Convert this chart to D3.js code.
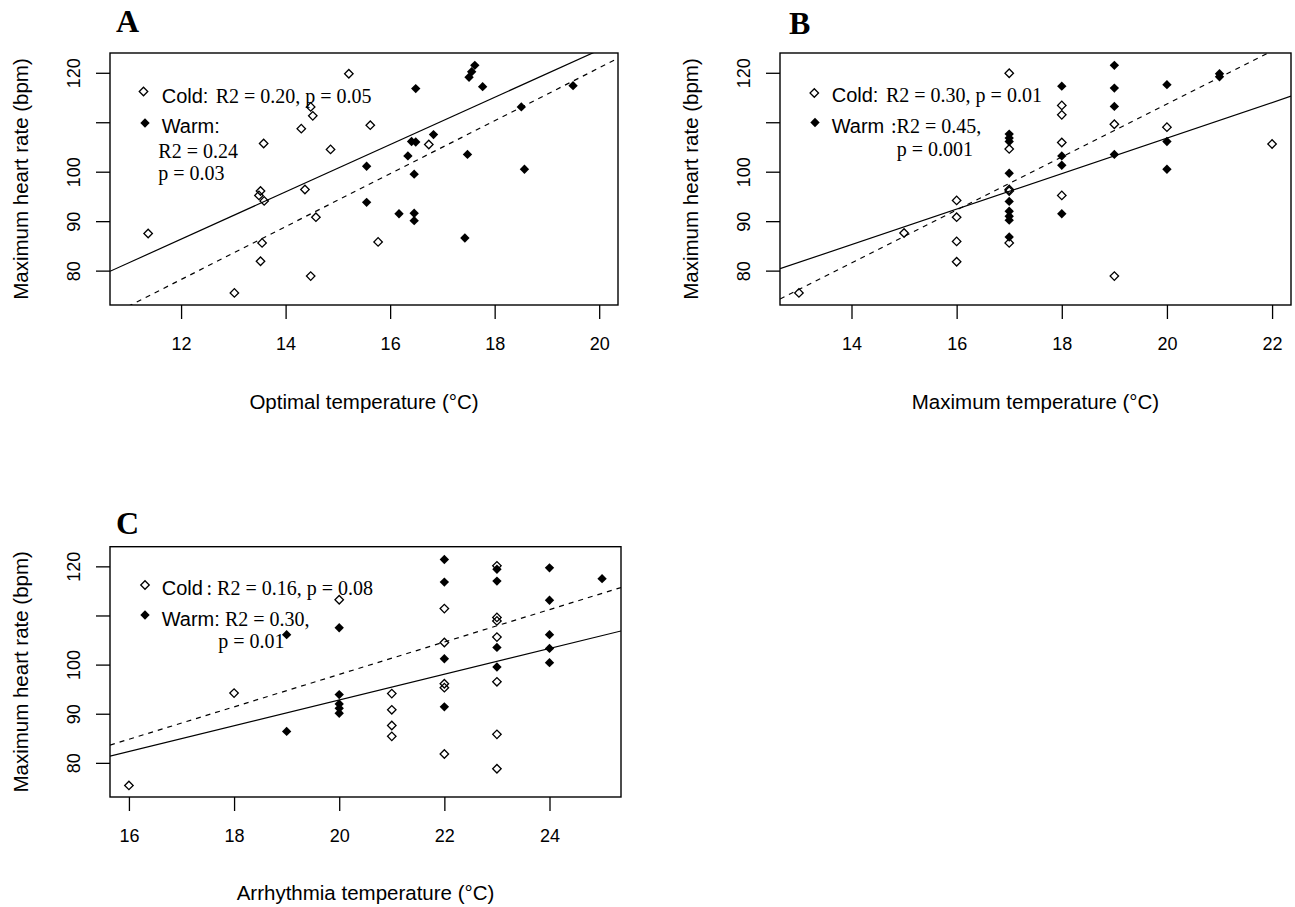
<!DOCTYPE html>
<html>
<head>
<meta charset="utf-8">
<script src="https://cdn.jsdelivr.net/npm/d3@7"></script>
<style>
  html, body { margin: 0; padding: 0; background: #fff; }
  svg { display: block; }
</style>
</head>
<body>
<div id="chart"></div>
<script>
// ---- data ----
// Panel A: optimal temperature vs maximum heart rate
const aColdTemp = [11.37, 15.21, 14.48, 14.52, 14.30, 15.62, 13.58, 14.86, 16.74, 13.52, 13.49, 13.59, 14.37, 14.58, 13.55, 15.77, 13.52, 14.48, 13.02];
const aColdRate = [87.5, 119.8, 113.1, 111.3, 108.7, 109.4, 105.7, 104.5, 105.5, 96.1, 95.2, 94.1, 96.4, 90.8, 85.6, 85.8, 81.9, 78.9, 75.5];
const aWarmTemp = [17.62, 17.56, 17.51, 17.77, 16.49, 19.50, 18.51, 16.83, 16.41, 16.49, 16.34, 17.48, 16.46, 18.57, 16.17, 16.46, 16.46, 17.43, 15.55, 15.55];
const aWarmRate = [121.5, 120.2, 119.1, 117.2, 116.8, 117.4, 113.1, 107.5, 106.1, 106.0, 103.2, 103.5, 99.5, 100.5, 91.5, 91.6, 90.1, 86.6, 101.1, 93.8];

// Panel B: maximum temperature
const bColdTemp = [13, 15, 16, 16, 16, 16, 17, 17, 17, 17, 17, 18, 18, 18, 18, 19, 19, 20, 22];
const bColdRate = [75.5, 87.6, 94.2, 90.8, 85.9, 81.8, 119.9, 104.6, 96.4, 96.1, 85.6, 113.4, 111.5, 105.9, 95.2, 109.6, 78.9, 109.0, 105.6];
const bWarmTemp = [17, 17, 17, 17, 17, 17, 17, 17, 17, 18, 18, 18, 18, 19, 19, 19, 19, 20, 20, 20, 21, 21];
const bWarmRate = [107.6, 106.8, 106.1, 99.7, 94.0, 92.0, 91.0, 90.2, 86.8, 117.3, 103.2, 101.3, 91.5, 121.5, 116.9, 113.2, 103.5, 117.6, 106.1, 100.5, 119.8, 119.2];

// Panel C: arrhythmia temperature
const cColdTemp = [16, 18, 20, 21, 21, 21, 21, 22, 22, 22, 22, 22, 23, 23, 23, 23, 23, 23, 23];
const cColdRate = [75.4, 94.2, 113.2, 94.1, 90.8, 87.6, 85.4, 111.4, 104.5, 96.1, 95.3, 81.8, 120.1, 109.6, 108.9, 105.6, 96.5, 85.8, 78.8];
const cWarmTemp = [19, 19, 20, 20, 20, 20, 20, 22, 22, 22, 22, 23, 23, 23, 23, 24, 24, 24, 24, 24, 25];
const cWarmRate = [106.1, 86.4, 107.5, 93.9, 92.0, 91.1, 90.1, 121.4, 116.8, 101.2, 91.4, 119.4, 117.0, 103.5, 99.5, 119.7, 113.1, 106.1, 103.3, 100.4, 117.5];

// regression lines [intercept, slope]: cold solid, warm dashed
const aFitCold = [29.0, 4.78], aFitWarm = [14.0, 5.35];
const bFitCold = [35.0, 3.59], bFitWarm = [6.5, 5.36];
const cFitCold = [40.4, 2.62], cFitWarm = [32.0, 3.30];

// axis ranges and ticks
const aXRange = [10.64, 20.36], bXRange = [12.64, 22.36], cXRange = [15.64, 25.36];
const yRange = [73.05, 124.0];
const aXTicks = [12, 14, 16, 18, 20];
const bXTicks = [14, 16, 18, 20, 22];
const cXTicks = [16, 18, 20, 22, 24];
const yTicks = [80, 90, 100, 110, 120];
const yTickLabels = ['80', '90', '100', '', '120'];   // 110 dropped as in the original

const yTitle = 'Maximum heart rate (bpm)';
const aXTitle = 'Optimal temperature (°C)';
const bXTitle = 'Maximum temperature (°C)';
const cXTitle = 'Arrhythmia temperature (°C)';

const SANS = '"Liberation Sans", Arial, sans-serif';
const SERIF = '"Liberation Serif", "Times New Roman", serif';

const svg = d3.select('#chart').append('svg')
    .attr('width', 1295)
    .attr('height', 907);
svg.append('rect').attr('width', 1295).attr('height', 907).attr('fill', '#fff');

const zip = (xs, ys) => xs.map((x, i) => ({ x: x, y: ys[i] }));

const panels = [
    {
        id: 'A', letter: { x: 116, y: 32 },
        box: { left: 110, right: 618, top: 53, bottom: 305 },
        xRange: aXRange, xTicks: aXTicks, xTitle: aXTitle,
        cold: zip(aColdTemp, aColdRate), warm: zip(aWarmTemp, aWarmRate),
        fitCold: aFitCold, fitWarm: aFitWarm,
        legend: {
            open: [33.5, 38.5], filled: [35, 70],
            text: [
                { t: 'Cold:', f: SANS, x: 51.7, y: 49.5 },
                { t: 'R2 = 0.20, p = 0.05', f: SERIF, x: 105.7, y: 49.5 },
                { t: 'Warm:', f: SANS, x: 51.7, y: 80 },
                { t: 'R2 = 0.24', f: SERIF, x: 48.3, y: 105 },
                { t: 'p = 0.03', f: SERIF, x: 48.3, y: 127 }
            ]
        }
    },
    {
        id: 'B', letter: { x: 789, y: 34 },
        box: { left: 780, right: 1291, top: 53, bottom: 305 },
        xRange: bXRange, xTicks: bXTicks, xTitle: bXTitle,
        cold: zip(bColdTemp, bColdRate), warm: zip(bWarmTemp, bWarmRate),
        fitCold: bFitCold, fitWarm: bFitWarm,
        legend: {
            open: [34.3, 40], filled: [35, 69.5],
            text: [
                { t: 'Cold:', f: SANS, x: 51.7, y: 48.5 },
                { t: 'R2 = 0.30, p = 0.01', f: SERIF, x: 106, y: 48.5 },
                { t: 'Warm', f: SANS, x: 51.7, y: 80 },
                { t: ':R2 = 0.45,', f: SERIF, x: 111, y: 80 },
                { t: 'p = 0.001', f: SERIF, x: 116.7, y: 103.4 }
            ]
        }
    },
    {
        id: 'C', letter: { x: 116, y: 534 },
        box: { left: 110, right: 621, top: 546.7, bottom: 797 },
        xRange: cXRange, xTicks: cXTicks, xTitle: cXTitle,
        cold: zip(cColdTemp, cColdRate), warm: zip(cWarmTemp, cWarmRate),
        fitCold: cFitCold, fitWarm: cFitWarm,
        legend: {
            open: [35, 38.3], filled: [35, 68.3],
            text: [
                { t: 'Cold', f: SANS, x: 51.7, y: 48.3 },
                { t: ': R2 = 0.16, p = 0.08', f: SERIF, x: 96.5, y: 48.3 },
                { t: 'Warm:', f: SANS, x: 51.7, y: 79.3 },
                { t: 'R2 = 0.30,', f: SERIF, x: 115, y: 79.3 },
                { t: 'p = 0.01', f: SERIF, x: 108.3, y: 101.6 }
            ]
        }
    }
];

const openDiamond = d3.symbol(d3.symbolSquare, 36);
const filledDiamond = d3.symbol(d3.symbolSquare, 44);

panels.forEach(p => {
    const b = p.box;
    const w = b.right - b.left, h = b.bottom - b.top;
    const g = svg.append('g').attr('transform', `translate(${b.left},${b.top})`);

    const x = d3.scaleLinear().domain(p.xRange).range([0, w]);
    const y = d3.scaleLinear().domain(yRange).range([h, 0]);

    // panel letter
    svg.append('text')
        .attr('x', p.letter.x).attr('y', p.letter.y)
        .style('font-family', SERIF).style('font-weight', 'bold')
        .style('font-size', '32px')
        .text(p.id);

    // clip for regression lines
    svg.append('clipPath').attr('id', 'clip' + p.id)
        .append('rect').attr('width', w).attr('height', h);

    // x axis
    const xAxis = g.append('g')
        .attr('transform', `translate(0,${h})`)
        .call(d3.axisBottom(x).tickValues(p.xTicks).tickSize(14).tickPadding(18).tickFormat(d3.format('d')));
    xAxis.select('.domain').remove();
    xAxis.selectAll('line').attr('stroke', '#000').attr('stroke-width', 1.3);
    xAxis.selectAll('text').style('font-family', SANS).style('font-size', '18px').attr('fill', '#000');

    // y axis
    const yAxis = g.append('g')
        .call(d3.axisLeft(y).tickValues(yTicks).tickSize(14).tickFormat((d, i) => yTickLabels[i]));
    yAxis.select('.domain').remove();
    yAxis.selectAll('line').attr('stroke', '#000').attr('stroke-width', 1.3);
    yAxis.selectAll('text')
        .attr('x', null).attr('dy', null)
        .attr('text-anchor', 'middle')
        .attr('transform', 'translate(-30,0) rotate(-90)')
        .style('font-family', SANS).style('font-size', '18px').attr('fill', '#000');

    // axis titles
    g.append('text')
        .attr('x', w / 2).attr('y', h + 103.5)
        .attr('text-anchor', 'middle')
        .style('font-family', SANS).style('font-size', '20.5px')
        .text(p.xTitle);
    g.append('text')
        .attr('transform', `translate(-82.5,${h / 2}) rotate(-90)`)
        .attr('text-anchor', 'middle')
        .style('font-family', SANS).style('font-size', '20.5px')
        .text(yTitle);

    // regression lines
    const lines = g.append('g').attr('clip-path', `url(#clip${p.id})`);
    [[p.fitCold, null], [p.fitWarm, '5,5']].forEach(([fit, dash]) => {
        const pts = p.xRange.map(t => [x(t), y(fit[0] + fit[1] * t)]);
        lines.append('path')
            .attr('d', d3.line()(pts))
            .attr('fill', 'none')
            .attr('stroke', '#000')
            .attr('stroke-width', 1.2)
            .attr('stroke-dasharray', dash);
    });

    // points
    g.selectAll('.cold')
        .data(p.cold).enter().append('path')
        .attr('d', openDiamond)
        .attr('transform', d => `translate(${x(d.x)},${y(d.y)}) rotate(45)`)
        .attr('fill', 'none').attr('stroke', '#000').attr('stroke-width', 1.3);
    g.selectAll('.warm')
        .data(p.warm).enter().append('path')
        .attr('d', filledDiamond)
        .attr('transform', d => `translate(${x(d.x)},${y(d.y)}) rotate(45)`)
        .attr('fill', '#000');

    // legend
    const L = p.legend;
    g.append('path').attr('d', openDiamond)
        .attr('transform', `translate(${L.open[0]},${L.open[1]}) rotate(45)`)
        .attr('fill', 'none').attr('stroke', '#000').attr('stroke-width', 1.3);
    g.append('path').attr('d', filledDiamond)
        .attr('transform', `translate(${L.filled[0]},${L.filled[1]}) rotate(45)`)
        .attr('fill', '#000');
    L.text.forEach(s => {
        g.append('text')
            .attr('x', s.x).attr('y', s.y)
            .style('font-family', s.f).style('font-size', '20px')
            .attr('fill', '#000')
            .text(s.t);
    });

    // box
    g.append('rect')
        .attr('width', w).attr('height', h)
        .attr('fill', 'none').attr('stroke', '#000').attr('stroke-width', 1.4);
});
</script>
</body>
</html>
